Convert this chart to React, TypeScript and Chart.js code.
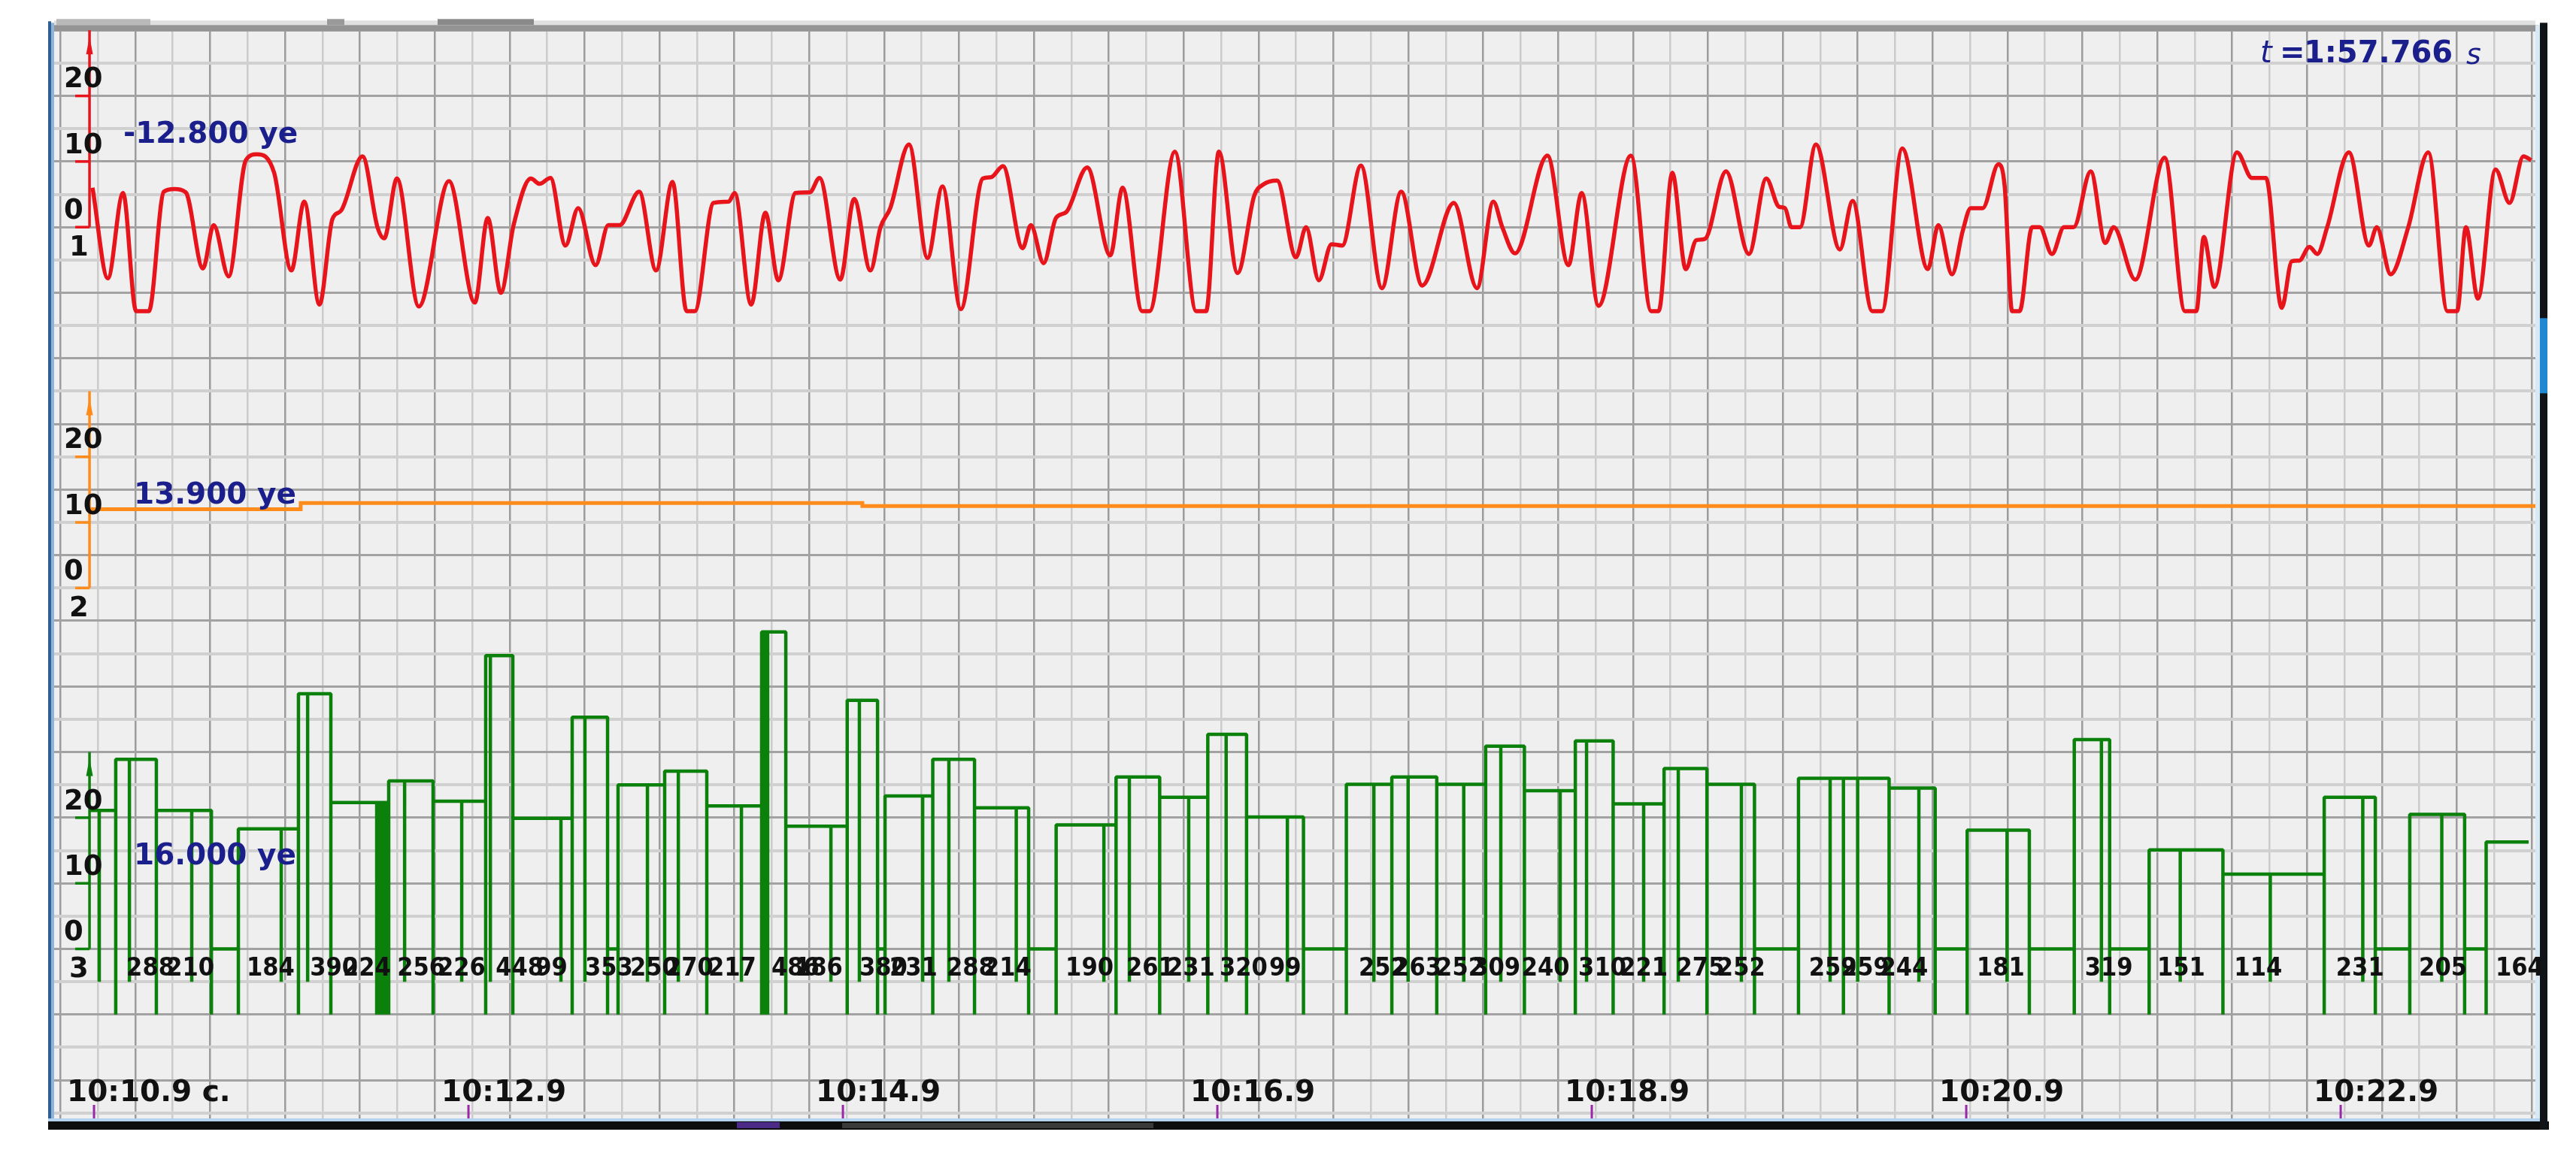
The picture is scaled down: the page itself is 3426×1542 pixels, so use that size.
import React, { useEffect, useRef } from "react";
import { Chart, registerables } from "chart.js";

Chart.register(...registerables);

// ---------------- data ----------------
// time axis, seconds within minute 10
const timeTickSeconds = [10.9, 12.9, 14.9, 16.9, 18.9, 20.9, 22.9];
const timeTickLabels = ["10:10.9 c.", "10:12.9", "10:14.9", "10:16.9", "10:18.9", "10:20.9", "10:22.9"];
const timeMin = 10.687;
const timeMax = 23.94;
const gridStartSeconds = 10.72;
const gridStepSeconds = 0.2;

// channel scales
const channelTickValues = [0, 10, 20];
const channelAxisTop = 30;
const channelNumbers = ["1", "2", "3"];
const currentValueTexts = ["-12.800 ye", "13.900 ye", "16.000 ye"];
const elapsedText = "1:57.766";

// channel 1 (red)
const redTimes = [
  10.892, 10.974, 11.055, 11.125, 11.193, 11.273, 11.33, 11.39, 11.482, 11.539,
  11.619, 11.711, 11.77, 11.862, 11.954, 12.023, 12.104, 12.173, 12.219, 12.334,
  12.414, 12.45, 12.518, 12.635, 12.796, 12.934, 13.003, 13.073, 13.141, 13.233,
  13.28, 13.338, 13.418, 13.486, 13.579, 13.647, 13.707, 13.812, 13.902, 13.99,
  14.065, 14.109, 14.209, 14.29, 14.322, 14.41, 14.486, 14.555, 14.647, 14.723,
  14.775, 14.886, 14.96, 15.047, 15.101, 15.153, 15.253, 15.352, 15.432, 15.53,
  15.647, 15.691, 15.755, 15.86, 15.904, 15.972, 16.038, 16.093, 16.205, 16.328,
  16.394, 16.498, 16.538, 16.673, 16.787, 16.84, 16.908, 17.008, 17.097, 17.145,
  17.219, 17.32, 17.374, 17.442, 17.51, 17.567, 17.667, 17.779, 17.882, 17.994,
  18.163, 18.287, 18.374, 18.422, 18.49, 18.663, 18.775, 18.846, 18.936, 19.109,
  19.217, 19.257, 19.33, 19.402, 19.458, 19.504, 19.617, 19.739, 19.832, 19.9,
  19.932, 19.966, 20.012, 20.097, 20.225, 20.293, 20.398, 20.45, 20.558, 20.695,
  20.751, 20.824, 20.882, 20.924, 20.988, 21.072, 21.105, 21.145, 21.185, 21.252,
  21.293, 21.358, 21.422, 21.474, 21.565, 21.643, 21.687, 21.803, 21.96, 22.068,
  22.129, 22.169, 22.225, 22.346, 22.426, 22.501, 22.585, 22.639, 22.679, 22.733,
  22.775, 22.828, 22.944, 23.051, 23.093, 23.167, 23.261, 23.368, 23.47, 23.522,
  23.569, 23.633, 23.727, 23.802, 23.876, 23.918,
];
const redValues = [
  6.0, -7.8, 5.2, -12.8, -12.8, 5.4, 5.8, 5.3, -6.3, 0.3,
  -7.5, 10.2, 11.1, 8.3, -6.6, 3.9, -11.8, 1.2, 2.5, 10.8,
  0.0, -1.7, 7.4, -12.1, 7.0, -11.5, 1.4, -10.0, 0.3, 7.4,
  6.6, 7.5, -2.8, 2.9, -5.8, 0.3, 0.3, 5.4, -6.6, 6.9,
  -12.8, -12.8, 3.7, 3.9, 5.2, -11.8, 2.2, -8.1, 5.2, 5.3,
  7.5, -8.0, 4.3, -6.6, 0.0, 2.9, 12.6, -4.7, 6.2, -12.5,
  7.4, 7.6, 9.3, -3.2, 0.3, -5.5, 1.4, 2.3, 9.1, -4.3,
  6.0, -12.8, -12.8, 11.5, -12.8, -12.8, 11.5, -7.0, 4.8, 6.5,
  7.1, -4.6, 0.0, -8.1, -2.6, -2.8, 9.4, -9.3, 5.4, -8.9,
  3.7, -9.3, 3.9, 0.0, -4.0, 10.9, -5.8, 5.2, -12.0, 10.9,
  -12.8, -12.8, 8.3, -6.4, -2.0, -1.8, 8.5, -4.1, 7.4, 3.1,
  2.9, 0.0, 0.0, 12.6, -3.4, 4.0, -12.8, -12.8, 12.0, -6.4,
  0.3, -7.2, -0.5, 2.9, 2.9, 9.6, 6.3, -12.8, -12.8, 0.0,
  0.0, -4.1, 0.0, 0.0, 8.5, -2.4, 0.0, -8.0, 10.6, -12.8,
  -12.8, -1.5, -9.1, 11.4, 7.5, 7.5, -12.3, -5.2, -5.1, -3.0,
  -4.1, 0.0, 11.4, -2.8, 0.0, -7.2, 0.0, 11.4, -12.8, -12.8,
  0.0, -10.9, 8.8, 3.7, 10.8, 10.2,
];

// channel 2 (orange), value holds from each time to the next
const orangeTimes = [10.876, 12.004, 15.004, 23.94];
const orangeValues = [12.0, 12.95, 12.5, 12.5];

// channel 3 (green)
const greenStartTime = 10.876;
const greenStartLevel = 21.1;
const greenEndTime = 23.904;
const greenDropLevel = -10;
const greenSpikeLevel = -5;
const greenEdgeTimes = [
  11.016, 11.233, 11.527, 11.671, 11.992, 12.165, 12.41, 12.426, 12.442, 12.458,
  12.474, 12.711, 12.992, 13.137, 13.454, 13.643, 13.699, 13.948, 14.173, 14.466,
  14.482, 14.498, 14.595, 14.923, 15.085, 15.125, 15.38, 15.603, 15.892, 16.039,
  16.359, 16.592, 16.849, 17.056, 17.36, 17.589, 17.832, 18.072, 18.333, 18.54,
  18.812, 19.014, 19.286, 19.515, 19.769, 20.004, 20.244, 20.488, 20.734, 20.905,
  21.237, 21.477, 21.666, 21.877, 22.271, 22.812, 23.085, 23.269, 23.562, 23.677,
];
const greenEdgeLevels = [
  28.9, 21.1, 0, 18.3, 38.9, 22.3, 22.3, 22.3, 22.3, 22.3,
  25.6, 22.5, 44.7, 19.9, 35.3, 0, 25.0, 27.1, 21.8, 48.3,
  48.3, 48.3, 18.7, 37.9, 0, 23.3, 28.9, 21.5, 0, 18.9,
  26.2, 23.1, 32.7, 20.1, 0, 25.1, 26.2, 25.1, 30.9, 24.1,
  31.7, 22.1, 27.5, 25.1, 0, 26.0, 26.0, 24.5, 0, 18.1,
  0, 31.9, 0, 15.1, 11.4, 23.1, 0, 20.5, 0, 16.3,
];
const greenSpikeTimes = [
  10.928, 11.089, 11.422, 11.9, 12.041, 12.559, 12.864, 13.017, 13.394, 13.522,
  13.856, 14.021, 14.358, 14.836, 14.988, 15.326, 15.466, 15.826, 16.294, 16.43,
  16.747, 16.947, 17.274, 17.736, 17.919, 18.216, 18.414, 18.731, 18.872, 19.177,
  19.362, 19.699, 20.173, 20.32, 20.647, 21.118, 21.622, 22.043, 22.524, 23.018,
  23.44,
];
const beatLabelTimes = [
  11.073, 11.286, 11.715, 12.053, 12.229, 12.519, 12.735, 13.045, 13.258, 13.522,
  13.763, 13.952, 14.181, 14.518, 14.643, 14.988, 15.149, 15.454, 15.651, 16.089,
  16.414, 16.631, 16.912, 17.177, 17.655, 17.84, 18.069, 18.262, 18.525, 18.828,
  19.049, 19.352, 19.57, 20.059, 20.233, 20.44, 20.956, 21.533, 21.92, 22.331,
  22.875, 23.318, 23.727,
];
const beatLabelTexts = [
  "288", "210", "184", "390", "224", "256", "226", "448", "99", "353",
  "250", "270", "217", "486", "186", "380", "231", "288", "214", "190",
  "261", "231", "320", "99", "252", "263", "252", "309", "240", "310",
  "221", "275", "252", "259", "259", "244", "181", "319", "151", "114",
  "231", "205", "164",
];

// ---------------- layout / style ----------------
const CW = 3426;
const CH = 1542;
const PLOT_L = 72;
const PLOT_R = 3372;
const PLOT_T = 40.3;
const PLOT_B = 1488;
const ROW = 43.65;
const ROWS = (PLOT_B - PLOT_T) / ROW;
const ZERO_ROWS = [6, 17, 28];
const UNITS_PER_ROW = 5;
const COLORS = ["#e8141c", "#ff8c1a", "#0b800b"];
const NAVY = "#1b1f8c";

function channelRange(i: number) {
  const z = ZERO_ROWS[i];
  return { min: (z - ROWS) * UNITS_PER_ROW, max: z * UNITS_PER_ROW };
}

function buildGreen() {
  type Ev = { t: number; edge: boolean; level: number };
  const evs: Ev[] = [];
  greenEdgeTimes.forEach((t, i) => evs.push({ t, edge: true, level: greenEdgeLevels[i] }));
  greenSpikeTimes.forEach((t) => evs.push({ t, edge: false, level: 0 }));
  evs.sort((a, b) => a.t - b.t);
  let cur = greenStartLevel;
  const pts: { x: number; y: number }[] = [{ x: greenStartTime, y: cur }];
  for (const e of evs) {
    if (e.edge) {
      pts.push({ x: e.t, y: cur }, { x: e.t, y: greenDropLevel }, { x: e.t, y: e.level });
      cur = e.level;
    } else {
      pts.push({ x: e.t, y: cur }, { x: e.t, y: greenSpikeLevel }, { x: e.t, y: cur });
    }
  }
  pts.push({ x: greenEndTime, y: cur });
  return pts;
}

const gridTicks: number[] = [];
for (let k = 0; gridStartSeconds + k * gridStepSeconds <= timeMax + 1e-6; k++) {
  gridTicks.push(Math.round((gridStartSeconds + k * gridStepSeconds) * 1000) / 1000);
}
const rowTicks: number[] = [];
for (let r = 0; r <= Math.floor(ROWS); r++) rowTicks.push(r);

const decor = {
  id: "decor",
  beforeDraw(chart: any) {
    const { ctx, chartArea: a } = chart;
    ctx.save();
    ctx.fillStyle = "#ffffff";
    ctx.fillRect(0, 0, chart.width, chart.height);
    ctx.fillStyle = "#efefef";
    ctx.fillRect(a.left, a.top, a.right - a.left, a.bottom - a.top);
    ctx.restore();
  },
  afterDraw(chart: any) {
    const { ctx, chartArea: a } = chart;
    const xs = chart.scales.x;
    const axes = [chart.scales.yRed, chart.scales.yOrange, chart.scales.yGreen];
    ctx.save();

    // frame
    ctx.fillStyle = "#e0e0e0";
    ctx.fillRect(a.left, a.top - 13, a.right - a.left, 6);
    ctx.fillStyle = "#b9b9b9";
    ctx.fillRect(a.left + 3, a.top - 15, 125, 8);
    ctx.fillStyle = "#9a9a9a";
    ctx.fillRect(a.left + 363, a.top - 15, 23, 8);
    ctx.fillStyle = "#8a8a8a";
    ctx.fillRect(a.left + 510, a.top - 15, 128, 8);
    ctx.fillStyle = "#949494";
    ctx.fillRect(a.left, a.top - 7, a.right - a.left + 4, 8);
    ctx.fillStyle = "#2f5f93";
    ctx.fillRect(a.left - 8, a.top - 12, 4, a.bottom - a.top + 27);
    ctx.fillStyle = "#8db4d8";
    ctx.fillRect(a.left - 4, a.top - 10, 4, a.bottom - a.top + 12);
    ctx.fillStyle = "#b3d3ee";
    ctx.fillRect(a.left - 8, a.bottom, a.right - a.left + 14, 4);
    ctx.fillStyle = "#0d0d0d";
    ctx.fillRect(a.left - 8, a.bottom + 4, a.right - a.left + 26, 11);
    ctx.fillStyle = "#4b2a88";
    ctx.fillRect(a.left + 908, a.bottom + 5, 57, 8);
    ctx.fillStyle = "#3a3a3a";
    ctx.fillRect(a.left + 1048, a.bottom + 6, 414, 7);
    ctx.fillStyle = "#d8e8f4";
    ctx.fillRect(a.right, a.top - 7, 6, a.bottom - a.top + 7);
    ctx.fillStyle = "#101418";
    ctx.fillRect(a.right + 6, a.top - 10, 10, a.bottom - a.top + 25);
    ctx.fillStyle = "#1e88d0";
    ctx.fillRect(a.right + 6, a.top + 383, 10, 100);

    // channel axes
    const axisX = xs.getPixelForValue(greenStartTime);
    axes.forEach((s: any, i: number) => {
      const c = COLORS[i];
      const yTop = s.getPixelForValue(channelAxisTop);
      const y0 = s.getPixelForValue(0);
      ctx.strokeStyle = c;
      ctx.fillStyle = c;
      ctx.lineWidth = 3.5;
      ctx.beginPath();
      ctx.moveTo(axisX, yTop);
      ctx.lineTo(axisX, y0);
      ctx.stroke();
      ctx.beginPath();
      ctx.moveTo(axisX, yTop + 8);
      ctx.lineTo(axisX - 4.5, yTop + 32);
      ctx.lineTo(axisX + 4.5, yTop + 32);
      ctx.closePath();
      ctx.fill();
      channelTickValues.forEach((v) => {
        const y = s.getPixelForValue(v);
        ctx.beginPath();
        ctx.moveTo(axisX - 19, y);
        ctx.lineTo(axisX, y);
        ctx.stroke();
      });
      ctx.fillStyle = "#111111";
      ctx.font = 'bold 37px "DejaVu Sans", Verdana, sans-serif';
      ctx.textAlign = "left";
      ctx.textBaseline = "middle";
      channelTickValues.forEach((v) => {
        ctx.fillText(String(v), a.left + 13, s.getPixelForValue(v) - 21);
      });
      ctx.fillText(channelNumbers[i], a.left + 20, y0 + 28);
      ctx.fillStyle = NAVY;
      ctx.font = 'bold 39px "DejaVu Sans", Verdana, sans-serif';
      ctx.fillText(currentValueTexts[i], a.left + (i === 0 ? 92 : 106), s.getPixelForValue(14));
    });

    // beat labels
    const yg = chart.scales.yGreen;
    ctx.fillStyle = "#111111";
    ctx.font = 'bold 34px "DejaVu Sans Condensed", "Liberation Sans Narrow", sans-serif';
    ctx.textAlign = "left";
    ctx.textBaseline = "middle";
    beatLabelTexts.forEach((txt, i) => {
      ctx.fillText(txt, xs.getPixelForValue(beatLabelTimes[i]), yg.getPixelForValue(-3));
    });

    // time labels and ticks
    ctx.font = 'bold 39px "DejaVu Sans", Verdana, sans-serif';
    timeTickSeconds.forEach((t, i) => {
      const px = xs.getPixelForValue(t);
      ctx.fillStyle = "#111111";
      ctx.fillText(timeTickLabels[i], px - 36, a.bottom - 33);
      ctx.strokeStyle = "#9b27a8";
      ctx.lineWidth = 3;
      ctx.beginPath();
      ctx.moveTo(px, a.bottom - 18);
      ctx.lineTo(px, a.bottom);
      ctx.stroke();
    });

    // elapsed time
    const ey = a.top + 32;
    ctx.fillStyle = NAVY;
    ctx.font = 'italic 40px "DejaVu Sans", sans-serif';
    ctx.fillText("t", a.right - 366, ey);
    ctx.font = 'bold 40px "DejaVu Sans", sans-serif';
    ctx.fillText("=", a.right - 340, ey);
    ctx.fillText(elapsedText, a.right - 308, ey);
    ctx.font = 'italic 38px "DejaVu Sans", sans-serif';
    ctx.fillText("s", a.right - 92, ey + 3);

    ctx.restore();
  },
};

export default function App() {
  const ref = useRef<HTMLCanvasElement | null>(null);

  useEffect(() => {
    if (!ref.current) return;
    const redPoints = redTimes.map((t, i) => ({ x: t, y: redValues[i] }));
    const orangePoints = orangeTimes.map((t, i) => ({ x: t, y: orangeValues[i] }));
    const greenPoints = buildGreen();
    const r0 = channelRange(0);
    const r1 = channelRange(1);
    const r2 = channelRange(2);

    const chart = new Chart(ref.current, {
      type: "line",
      data: {
        datasets: [
          {
            label: "1",
            data: redPoints,
            yAxisID: "yRed",
            borderColor: COLORS[0],
            borderWidth: 5.5,
            pointRadius: 0,
            cubicInterpolationMode: "monotone",
            fill: false,
          },
          {
            label: "2",
            data: orangePoints,
            yAxisID: "yOrange",
            borderColor: COLORS[1],
            borderWidth: 5,
            pointRadius: 0,
            stepped: true,
            fill: false,
          },
          {
            label: "3",
            data: greenPoints,
            yAxisID: "yGreen",
            borderColor: COLORS[2],
            borderWidth: 4.5,
            pointRadius: 0,
            tension: 0,
            borderJoinStyle: "bevel",
            fill: false,
          },
        ],
      } as any,
      options: {
        responsive: false,
        animation: false,
        devicePixelRatio: 1,
        events: [],
        layout: {
          padding: { left: PLOT_L, right: CW - PLOT_R, top: PLOT_T, bottom: CH - PLOT_B },
        },
        plugins: { legend: { display: false }, tooltip: { enabled: false }, title: { display: false } },
        scales: {
          x: {
            type: "linear",
            min: timeMin,
            max: timeMax,
            afterFit: (s: any) => {
              s.height = 0;
            },
            afterBuildTicks: (s: any) => {
              s.ticks = gridTicks.map((v) => ({ value: v }));
            },
            ticks: { display: false, autoSkip: false },
            border: { display: false },
            grid: {
              drawTicks: false,
              color: (c: any) => {
                const k = Math.round((c.tick.value - gridStartSeconds) / gridStepSeconds);
                return k % 2 === 0 ? "#9c9c9c" : "#cbcbcb";
              },
              lineWidth: 2.5,
            },
          },
          yg: {
            type: "linear",
            position: "left",
            min: 0,
            max: ROWS,
            reverse: true,
            afterFit: (s: any) => {
              s.width = 0;
            },
            afterBuildTicks: (s: any) => {
              s.ticks = rowTicks.map((v) => ({ value: v }));
            },
            ticks: { display: false, autoSkip: false },
            border: { display: false },
            grid: {
              drawTicks: false,
              color: (c: any) => (Math.round(c.tick.value) % 2 === 0 ? "#a2a2a2" : "#d0d0d0"),
              lineWidth: (c: any) => (Math.round(c.tick.value) % 2 === 0 ? 3 : 4),
            },
          },
          yRed: { type: "linear", display: false, min: r0.min, max: r0.max },
          yOrange: { type: "linear", display: false, min: r1.min, max: r1.max },
          yGreen: { type: "linear", display: false, min: r2.min, max: r2.max },
        },
      } as any,
      plugins: [decor],
    });
    return () => chart.destroy();
  }, []);

  return (
    <div style={{ position: "fixed", left: 0, top: 0, width: CW, height: CH, background: "#ffffff" }}>
      <canvas ref={ref} width={CW} height={CH} style={{ display: "block", width: CW, height: CH }} />
    </div>
  );
}
